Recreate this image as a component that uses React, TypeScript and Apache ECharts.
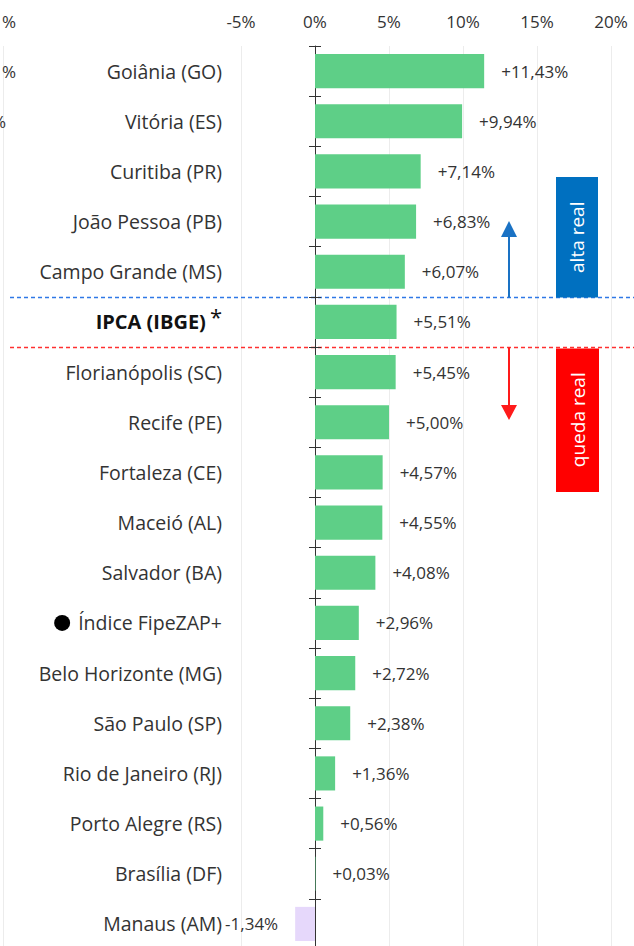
import React, { useEffect, useRef } from "react";
import * as echarts from "echarts";

const categories = [
  "Goiânia (GO)",
  "Vitória (ES)",
  "Curitiba (PR)",
  "João Pessoa (PB)",
  "Campo Grande (MS)",
  "IPCA (IBGE)",
  "Florianópolis (SC)",
  "Recife (PE)",
  "Fortaleza (CE)",
  "Maceió (AL)",
  "Salvador (BA)",
  "Índice FipeZAP+",
  "Belo Horizonte (MG)",
  "São Paulo (SP)",
  "Rio de Janeiro (RJ)",
  "Porto Alegre (RS)",
  "Brasília (DF)",
  "Manaus (AM)",
];
const values = [
  11.43, 9.94, 7.14, 6.83, 6.07, 5.51, 5.45, 5.0, 4.57, 4.55, 4.08, 2.96,
  2.72, 2.38, 1.36, 0.56, 0.03, -1.34,
];
const xTicks = { min: -5, max: 20, interval: 5 };
const annotations = { up: "alta real", down: "queda real" };

const FONT = "Open Sans";
const TEXT = "#333333";
const GREEN = "#5ecf87";
const LAVENDER = "#e6d8fb";

const fmt = (v: number) =>
  (v >= 0 ? "+" : "-") + Math.abs(v).toFixed(2).replace(".", ",") + "%";

export default function App() {
  const ref = useRef<HTMLDivElement>(null);
  useEffect(() => {
    if (!ref.current) return;
    const chart = echarts.init(ref.current, null, { renderer: "svg" });
    const gridTop = 46;
    const gridHeight = 903;
    const yAxisBase = {
      type: "category" as const,
      data: categories,
      inverse: true,
      gridIndex: 0,
      position: "left" as const,
    };
    chart.setOption({
      animation: false,
      textStyle: { fontFamily: FONT },
      grid: { left: 241, right: 23, top: gridTop, height: gridHeight },
      xAxis: {
        type: "value",
        position: "top",
        min: xTicks.min,
        max: xTicks.max,
        interval: xTicks.interval,
        axisLine: { show: false },
        axisTick: { show: false },
        axisLabel: {
          formatter: (v: number) => `${v}%`,
          color: TEXT,
          fontSize: 17,
          fontFamily: FONT,
          margin: 16,
        },
        splitLine: { lineStyle: { color: "#ececec", width: 1 } },
      },
      yAxis: [
        {
          ...yAxisBase,
          axisLine: { show: false },
          axisTick: { show: false },
          axisLabel: {
            margin: 19,
            color: TEXT,
            fontSize: 19.5,
            fontFamily: FONT,
            formatter: (v: string) => {
              if (v === "IPCA (IBGE)") return `{b|${v}}{s|*}`;
              if (v === "Índice FipeZAP+") return `{c| }{g| }{n|${v}}`;
              return `{n|${v}}`;
            },
            rich: {
              n: { fontSize: 19.5, color: TEXT, fontFamily: FONT },
              b: { fontSize: 20, color: "#111", fontWeight: "bold", fontFamily: FONT },
              s: { fontSize: 22, color: "#111", fontFamily: FONT, padding: [0, 0, 12, 4] },
              c: { width: 16, height: 16, borderRadius: 8, backgroundColor: "#000", fontSize: 1 },
              g: { width: 8, fontSize: 1 },
            },
          },
        },
        {
          ...yAxisBase,
          offset: -74,
          axisLine: { show: true, lineStyle: { color: "#333", width: 1 } },
          axisTick: { show: true, length: 6, lineStyle: { color: "#333" } },
          axisLabel: { show: false },
        },
        {
          ...yAxisBase,
          offset: -74,
          axisLine: { show: false },
          axisTick: { show: true, inside: true, length: 6, lineStyle: { color: "#333" } },
          axisLabel: { show: false },
        },
      ],
      series: [
        {
          type: "bar",
          yAxisIndex: 0,
          barWidth: "68%",
          data: values.map((v) => ({
            value: v,
            itemStyle: { color: v < 0 ? LAVENDER : GREEN },
            label: { position: v < 0 ? "left" : "right" },
          })),
          label: {
            show: true,
            distance: 17,
            color: TEXT,
            fontSize: 17,
            fontFamily: FONT,
            formatter: (p: any) => fmt(p.value),
          },
        },
      ],
    });

    const yPix = (i: number) => chart.convertToPixel({ yAxisIndex: 0 }, i) as number;
    const band = yPix(1) - yPix(0);
    const blueY = Math.round(yPix(4) + band / 2) + 0.5;
    const redY = Math.round(yPix(5) + band / 2) + 0.5;
    const arrowX = 509;
    const blue = "#1a72c4";
    const red = "#ff1a1a";
    chart.setOption({
      graphic: [
        { type: "line", shape: { x1: 3.5, y1: gridTop, x2: 3.5, y2: 946 }, style: { stroke: "#ececec", lineWidth: 1 }, silent: true },
        { type: "text", x: 16, y: 21, style: { text: "%", fill: TEXT, font: `17px ${FONT}`, align: "right", verticalAlign: "middle" } },
        { type: "text", x: 16, y: 71, style: { text: "%", fill: TEXT, font: `17px ${FONT}`, align: "right", verticalAlign: "middle" } },
        { type: "text", x: 6, y: 121, style: { text: "%", fill: TEXT, font: `17px ${FONT}`, align: "right", verticalAlign: "middle" } },
        { type: "line", shape: { x1: 10, y1: blueY, x2: 634, y2: blueY }, style: { stroke: "#2f78e6", lineWidth: 1.5, lineDash: [4, 3] } },
        { type: "line", shape: { x1: 10, y1: redY, x2: 634, y2: redY }, style: { stroke: "#ff3030", lineWidth: 1.5, lineDash: [4, 3] } },
        { type: "line", shape: { x1: arrowX, y1: blueY, x2: arrowX, y2: 236 }, style: { stroke: blue, lineWidth: 2 } },
        { type: "polygon", shape: { points: [[arrowX - 8, 237], [arrowX + 8, 237], [arrowX, 221]] }, style: { fill: blue } },
        { type: "line", shape: { x1: arrowX, y1: redY, x2: arrowX, y2: 406 }, style: { stroke: red, lineWidth: 2 } },
        { type: "polygon", shape: { points: [[arrowX - 8, 405], [arrowX + 8, 405], [arrowX, 420]] }, style: { fill: red } },
        { type: "rect", shape: { x: 556, y: 177, width: 42, height: blueY - 177 }, style: { fill: "#0070c0" } },
        { type: "text", x: 577, y: (177 + blueY) / 2, rotation: Math.PI / 2, style: { text: annotations.up, fill: "#fff", font: `19px ${FONT}`, align: "center", verticalAlign: "middle" } },
        { type: "rect", shape: { x: 556, y: redY + 1, width: 43, height: 492 - redY - 1 }, style: { fill: "#ff0000" } },
        { type: "text", x: 577.5, y: (redY + 492) / 2, rotation: Math.PI / 2, style: { text: annotations.down, fill: "#fff", font: `19px ${FONT}`, align: "center", verticalAlign: "middle" } },
      ],
    });
    return () => chart.dispose();
  }, []);
  return (
    <div
      ref={ref}
      style={{ position: "fixed", left: 0, top: 0, width: 634, height: 952, background: "#fff" }}
    />
  );
}
